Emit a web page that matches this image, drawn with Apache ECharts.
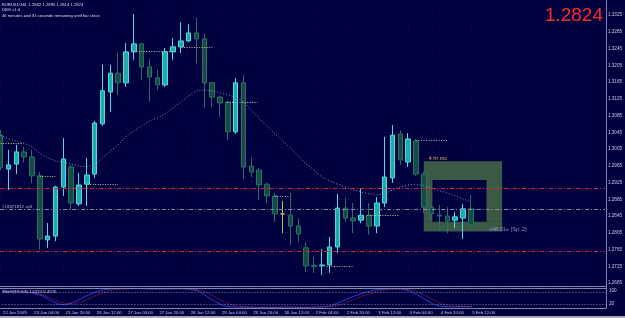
<!DOCTYPE html>
<html>
<head>
<meta charset="utf-8">
<script src="https://cdn.jsdelivr.net/npm/echarts@6.0.0/dist/echarts.min.js"></script>
<style>
html,body{margin:0;padding:0;background:#00003f;overflow:hidden;}
#chart{width:625px;height:318px;}
</style>
</head>
<body>
<div id="chart"></div>
<script>
// ---------------- data ----------------
const symbolName = 'EURUSD,H4';
const opens = [1.3038,1.2957,1.2969,1.2998,1.2986,1.2941,1.2788,1.2797,1.2914,1.2962,
 1.2874,1.2921,1.2945,1.3065,1.3141,1.3186,1.3163,1.3237,1.3256,1.3201,
 1.3175,1.3158,1.3237,1.3249,1.3263,1.3282,1.3268,1.3163,1.3129,1.3117,
 1.3046,1.3163,1.2964,1.2955,1.2921,1.2893,1.2850,1.2847,1.2821,1.2769,
 1.2727,1.2726,1.2728,1.2771,1.2864,1.2840,1.2835,1.2847,1.2821,1.2876,
 1.2936,1.3041,1.2974,1.3024,1.2945,1.2866,1.2847,1.2845,1.2835,1.2840,1.2862];
const closes = [1.2960,1.2967,1.2998,1.2986,1.2941,1.2790,1.2797,1.2914,1.2981,1.2876,
 1.2919,1.2943,1.3067,1.3144,1.3186,1.3163,1.3237,1.3256,1.3201,1.3177,
 1.3158,1.3237,1.3249,1.3263,1.3282,1.3268,1.3163,1.3129,1.3115,1.3046,
 1.3163,1.2962,1.2950,1.2919,1.2893,1.2850,1.2850,1.2821,1.2802,1.2726,
 1.2724,1.2728,1.2771,1.2864,1.2840,1.2833,1.2847,1.2821,1.2876,1.2938,
 1.3038,1.2979,1.3029,1.2945,1.2866,1.2850,1.2845,1.2833,1.2843,1.2862,1.2824];
const highs = [1.3050,1.3003,1.3015,1.3010,1.3003,1.2950,1.2828,1.2917,1.3031,1.2967,
 1.2948,1.2984,1.3072,1.3206,1.3206,1.3234,1.3258,1.3327,1.3258,1.3220,
 1.3194,1.3246,1.3270,1.3308,1.3303,1.3318,1.3280,1.3165,1.3132,1.3120,
 1.3175,1.3182,1.2984,1.2960,1.2924,1.2900,1.2881,1.2900,1.2840,1.2781,
 1.2747,1.2766,1.2795,1.2898,1.2888,1.2876,1.2912,1.2876,1.2890,1.3034,
 1.3062,1.3050,1.3043,1.3029,1.2950,1.2871,1.2871,1.2866,1.2855,1.2874,1.2895];
const lows = [1.2955,1.2907,1.2945,1.2972,1.2924,1.2764,1.2769,1.2785,1.2893,1.2859,
 1.2869,1.2869,1.2936,1.3060,1.3093,1.3134,1.3153,1.3218,1.3170,1.3117,
 1.3146,1.3153,1.3218,1.3234,1.3261,1.3210,1.3103,1.3105,1.3081,1.3026,
 1.3041,1.2933,1.2938,1.2883,1.2876,1.2831,1.2804,1.2776,1.2783,1.2711,
 1.2709,1.2704,1.2709,1.2757,1.2831,1.2804,1.2828,1.2800,1.2804,1.2866,
 1.2924,1.2967,1.2962,1.2941,1.2852,1.2835,1.2812,1.2804,1.2816,1.2790,1.2814];
const maValues = [1.3038,1.3029,1.3024,1.3019,1.3010,1.2995,1.2984,1.2976,1.2974,1.2969,
 1.2964,1.2962,1.2967,1.2984,1.3000,1.3015,1.3034,1.3048,1.3060,1.3072,
 1.3079,1.3089,1.3103,1.3117,1.3132,1.3144,1.3146,1.3144,1.3139,1.3134,
 1.3129,1.3117,1.3098,1.3079,1.3060,1.3041,1.3024,1.3007,1.2988,1.2969,
 1.2955,1.2938,1.2929,1.2921,1.2914,1.2907,1.2902,1.2898,1.2895,1.2898,
 1.2907,1.2914,1.2919,1.2921,1.2917,1.2912,1.2905,1.2900,1.2893,1.2886,1.2878];
const stochMain = [85,84,83,80,72,62,40,20,16,28,
 48,66,82,92,96,97,97,97,96,95,
 95,96,97,97,94,85,60,35,15,6,
 4,4,3,3,3,3,4,4,3,3,
 4,6,12,28,45,60,74,85,93,96,
 97,95,85,66,42,20,9,6,6,7,7.6324];
const stochSignal = [84,83,82,80,75,68,52,32,22,22,
 30,46,64,80,90,95,96,97,97,96,
 96,96,96,96,95,90,78,58,36,18,
 10,6,5,4,4,4,4,4,4,4,
 4,5,7,15,28,44,60,73,84,91,
 95,96,92,82,64,42,22,12,8,7,6.4576];
const xTickIndex = [0,4,8,12,16,20,24,28,32,36,40,44,48,52,56,60];
const xTickLabels = ['22 Jan 2009','23 Jan 04:00','23 Jan 20:00','26 Jan 12:00','27 Jan 04:00','27 Jan 20:00',
 '28 Jan 12:00','29 Jan 04:00','29 Jan 20:00','30 Jan 12:00','2 Feb 04:00','2 Feb 20:00',
 '3 Feb 12:00','4 Feb 04:00','4 Feb 20:00','5 Feb 12:00'];
const priceTicks = [1.3325,1.3285,1.3245,1.3205,1.3165,1.3125,1.3085,1.3045,1.3005,
 1.2965,1.2925,1.2885,1.2845,1.2805,1.2765,1.2725,1.2685];
const stochLevels = [80, 20];
const stochTicks = [20];
const stochTopLabel = '100';
const redLevels = [1.2911, 1.2761];
const sellLevel = 1.2860;
const sellLabel = '#18471812 sell';
// [fromBar, toBar, price]
const tradeSegments = [[0,2.9,1.3019],[5,7,1.2941],[11.1,15,1.2920],[17,22.2,1.3239],[23.1,27,1.3249],
 [28.9,32.8,1.3117],[35,36.9,1.2891],[41.6,44.9,1.2726],[46.8,50.9,1.2847],[53,57,1.3025]];
const boxOuter = [54, 64, 1.2808, 1.2976];   // x0, x1, low, high
const boxInner = [55.1, 62, 1.2831, 1.2931];
const boxLabel = '4 hr mc';
const dojiBars = [36];
const stochName = 'Stoch(12,3,3)';
const infoLines = ['DBG v1.0', '46 minutes and 31 seconds remaining until bar close'];
const tradeInfo = '\u00ab48.31\u00bb (Sp: 2)';

// ---------------- layout / style ----------------
const BG = '#00003f';
const FONT = '"Liberation Sans", Arial, sans-serif';
const AXIS_TXT = '#c4cbe4';
const BULL = '#22a9aa', BULL_B = '#4cdce2';
const BEAR = '#134c45', BEAR_B = '#2a7064';
const DOJI = '#b8c43a';
const GRIDLINE = '#0b0b4c';
const FRAME = '#3b5a45';
const xMin = -0.0764, xMax = 77.12;
const yMin = 1.26778, yMax = 1.33608;
const xL = xMin + 0.01, xR = xMax - 0.01;   // full-width horizontal lines

const last = opens.length - 1;
const candleData = opens.map((o, i) => {
  const item = { value: [i, o, closes[i], lows[i], highs[i]] };
  if (dojiBars.includes(i)) {
    item.itemStyle = { color: DOJI, color0: DOJI, borderColor: DOJI, borderColor0: DOJI, borderColorDoji: DOJI };
  }
  return item;
});

const frameBands = [
  [boxOuter[0], boxOuter[1], boxInner[3], boxOuter[3]],
  [boxOuter[0], boxOuter[1], boxOuter[2], boxInner[2]],
  [boxOuter[0], boxInner[0], boxInner[2], boxInner[3]],
  [boxInner[1], boxOuter[1], boxInner[2], boxInner[3]]
];
const frameData = frameBands.map((b, k) => {
  const a = { coord: [b[0], b[3]] };
  if (k === 0) {
    a.label = { show: true, position: [5, -6], formatter: boxLabel, color: '#f0a060',
      fontSize: 5.5, fontFamily: FONT };
  } else {
    a.label = { show: false };
  }
  return [a, { coord: [b[1], b[2]] }];
});

const dashDot = [4, 2, 1, 2];
const hLine = p => [{ coord: [xL, p] }, { coord: [xR, p] }];
const segData = tradeSegments.map(s => [{ coord: [s[0], s[2]] }, { coord: [s[1], s[2]] }]);
const noSym = ['none', 'none'];

const chart = echarts.init(document.getElementById('chart'), null, { renderer: 'canvas' });
chart.setOption({
  backgroundColor: BG,
  animation: false,
  grid: [
    { left: 0, top: 0, width: 606, height: 286 },
    { left: 0, top: 288, width: 606, height: 20 }
  ],
  xAxis: [
    { gridIndex: 0, type: 'value', min: xMin, max: xMax,
      axisLine: { show: false }, axisTick: { show: false, customValues: xTickIndex },
      axisLabel: { show: false },
      splitLine: { show: true, lineStyle: { color: GRIDLINE, type: [1, 2], width: 1 } } },
    { gridIndex: 1, type: 'value', min: xMin, max: xMax,
      axisLine: { show: false }, axisTick: { show: false },
      axisLabel: { customValues: xTickIndex, formatter: v => xTickLabels[xTickIndex.indexOf(Math.round(v))] || '',
        align: 'left', color: AXIS_TXT, fontSize: 4.3, fontFamily: FONT, margin: 2.5 },
      splitLine: { show: false } }
  ],
  yAxis: [
    { gridIndex: 0, type: 'value', position: 'right', min: yMin, max: yMax,
      axisLine: { show: false }, axisTick: { show: false, customValues: priceTicks },
      axisLabel: { customValues: priceTicks, formatter: v => v.toFixed(4), color: AXIS_TXT,
        fontSize: 4.6, fontFamily: FONT, margin: 3 },
      splitLine: { show: true, lineStyle: { color: GRIDLINE, type: [1, 2], width: 1 } } },
    { gridIndex: 1, type: 'value', position: 'right', min: 0, max: 100,
      axisLine: { show: false }, axisTick: { show: false },
      axisLabel: { customValues: stochTicks, color: AXIS_TXT, fontSize: 4.6, fontFamily: FONT, margin: 3 },
      splitLine: { show: false } }
  ],
  series: [
    { name: 'box', type: 'line', xAxisIndex: 0, yAxisIndex: 0, data: [], z: 1, silent: true,
      markArea: { silent: true, itemStyle: { color: FRAME }, data: frameData } },
    { name: symbolName, type: 'candlestick', xAxisIndex: 0, yAxisIndex: 0, z: 3,
      encode: { x: 0, y: [1, 2, 3, 4] }, barWidth: 5, data: candleData,
      itemStyle: { color: BULL, color0: BEAR, borderColor: BULL_B, borderColor0: BEAR_B, borderColorDoji: DOJI, borderWidth: 1 } },
    { name: 'MA', type: 'line', xAxisIndex: 0, yAxisIndex: 0, z: 4, showSymbol: false, symbol: 'none',
      data: maValues.map((v, i) => [i, v]),
      lineStyle: { color: '#8090cc', width: 1, type: [1, 2] } },
    { name: 'trades', type: 'line', xAxisIndex: 0, yAxisIndex: 0, data: [], z: 5, silent: true,
      markLine: { silent: true, symbol: noSym, label: { show: false },
        lineStyle: { color: '#c8c888', type: [1, 1.5], width: 1 }, data: segData } },
    { name: 'redLevels', type: 'line', xAxisIndex: 0, yAxisIndex: 0, data: [], z: 6, silent: true,
      markLine: { silent: true, symbol: noSym, label: { show: false },
        lineStyle: { color: '#d42a2a', type: dashDot, width: 1 },
        data: redLevels.map(hLine) } },
    { name: 'sellLevel', type: 'line', xAxisIndex: 0, yAxisIndex: 0, data: [], z: 6, silent: true,
      markLine: { silent: true, symbol: noSym,
        label: { show: true, position: 'insideStartTop', formatter: sellLabel, color: '#b8b8cc',
          fontSize: 4.4, fontFamily: FONT, distance: [2, 1] },
        lineStyle: { color: '#8c8c9c', type: dashDot, width: 1 },
        data: [hLine(sellLevel)] } },
    { name: 'lastPrice', type: 'line', xAxisIndex: 0, yAxisIndex: 0, data: [], z: 7, silent: true,
      markLine: { silent: true, symbol: noSym,
        label: { show: true, position: 'end', formatter: closes[last].toFixed(4), color: '#000050',
          backgroundColor: '#c8dcf4', fontSize: 4.6, fontFamily: FONT, padding: [1, 1, 0, 1], distance: 1.5 },
        lineStyle: { color: BG, opacity: 0, width: 1 },
        data: [hLine(closes[last])] } },
    { name: 'stochMain', type: 'line', xAxisIndex: 1, yAxisIndex: 1, z: 3, showSymbol: false, symbol: 'none',
      data: stochMain.map((v, i) => [i, v]), lineStyle: { color: '#2a3cd0', width: 1 },
      markLine: { silent: true, symbol: noSym, label: { show: false },
        lineStyle: { color: '#7c84b0', type: [1, 2], width: 1 },
        data: stochLevels.map(v => [{ coord: [xL, v] }, { coord: [xR, v] }]) } },
    { name: 'stochSignal', type: 'line', xAxisIndex: 1, yAxisIndex: 1, z: 4, showSymbol: false, symbol: 'none',
      data: stochSignal.map((v, i) => [i, v]), lineStyle: { color: '#d83030', width: 1, type: [1, 1.5] } }
  ],
  graphic: [
    { type: 'text', x: 2, y: 4.7, z: 100, silent: true,
      style: { text: symbolName + '  ' + [opens[last], highs[last], lows[last], closes[last]].map(v => v.toFixed(4)).join(' '),
        fill: '#dcdcec', font: '4.2px ' + FONT, verticalAlign: 'middle' } },
    { type: 'text', x: 2, y: 10.2, z: 100, silent: true,
      style: { text: infoLines[0], fill: '#dcdcec', font: '4.2px ' + FONT, verticalAlign: 'middle' } },
    { type: 'text', x: 2, y: 15.4, z: 100, silent: true,
      style: { text: infoLines[1], fill: '#dcdcec', font: '4.2px ' + FONT, verticalAlign: 'middle' } },
    { type: 'text', x: 603, y: 15.5, z: 100, silent: true,
      style: { text: closes[last].toFixed(4), fill: '#ff2a2a', font: '19px ' + FONT, align: 'right', verticalAlign: 'middle' } },
    { type: 'text', x: 2, y: 292, z: 100, silent: true,
      style: { text: stochName + ' ' + stochMain[last].toFixed(4) + ' ' + stochSignal[last].toFixed(4),
        fill: '#c8c8dc', font: '4.3px ' + FONT, verticalAlign: 'middle' } },
    { type: 'text', x: 609, y: 291, z: 100, silent: true,
      style: { text: stochTopLabel, fill: AXIS_TXT, font: '4.6px ' + FONT, verticalAlign: 'middle' } },
    { type: 'text', x: 489, y: 229.5, z: 100, silent: true,
      style: { text: tradeInfo, fill: '#8c94c8', font: '5.5px ' + FONT, verticalAlign: 'middle' } },
    { type: 'line', z: 100, silent: true, shape: { x1: 606.5, y1: 0, x2: 606.5, y2: 308.5 }, style: { stroke: '#7a88b0', lineWidth: 1 } },
    { type: 'line', z: 100, silent: true, shape: { x1: 0, y1: 286.5, x2: 606.5, y2: 286.5 }, style: { stroke: '#7a88b0', lineWidth: 1 } },
    { type: 'line', z: 100, silent: true, shape: { x1: 0, y1: 288.5, x2: 606.5, y2: 288.5 }, style: { stroke: '#7a88b0', lineWidth: 1 } },
    { type: 'line', z: 100, silent: true, shape: { x1: 0, y1: 308.5, x2: 606.5, y2: 308.5 }, style: { stroke: '#7a88b0', lineWidth: 1 } },
    { type: 'rect', z: 100, silent: true, shape: { x: 0, y: 316, width: 625, height: 2 }, style: { fill: '#a8a8b8' } }
  ]
});
</script>
</body>
</html>
